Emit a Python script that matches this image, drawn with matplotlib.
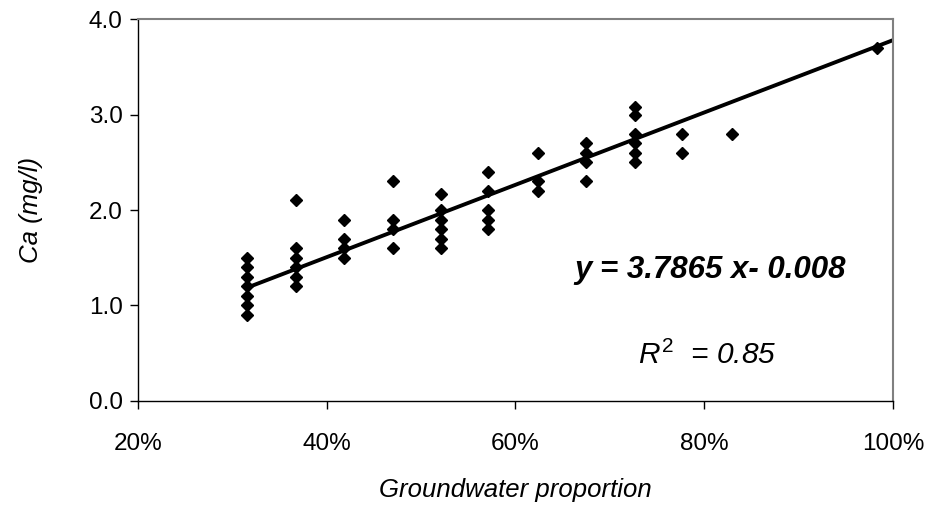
import numpy as np
import matplotlib
matplotlib.use('Agg')
import matplotlib.pyplot as plt
from matplotlib.ticker import PercentFormatter

plt.rcParams['font.family'] = 'Liberation Sans'
plt.rcParams['mathtext.fontset'] = 'custom'
plt.rcParams['mathtext.rm'] = 'Liberation Sans'
plt.rcParams['mathtext.it'] = 'Liberation Sans:italic'

# groundwater proportion of each sampling group, and the Ca values measured
gw = [0.315, 0.367, 0.418, 0.470, 0.521, 0.571, 0.624, 0.675, 0.727, 0.777, 0.829, 0.983]
ca = [
    [1.5, 1.4, 1.3, 1.2, 1.1, 1.0, 0.9],
    [2.1, 1.6, 1.5, 1.4, 1.3, 1.2],
    [1.9, 1.7, 1.6, 1.5],
    [2.3, 1.9, 1.8, 1.6],
    [2.17, 2.0, 1.9, 1.8, 1.7, 1.6],
    [2.4, 2.2, 2.0, 1.9, 1.8],
    [2.6, 2.3, 2.2],
    [2.7, 2.6, 2.5, 2.3],
    [3.08, 3.0, 2.8, 2.7, 2.6, 2.5],
    [2.8, 2.6],
    [2.8],
    [3.7],
]
slope = 3.7865
intercept = -0.008
r2 = 0.85

x = np.concatenate([[g] * len(v) for g, v in zip(gw, ca)])
y = np.concatenate(ca)

fig = plt.figure(figsize=(9.33, 5.29), dpi=100)
ax = fig.add_axes([0.148, 0.242, 0.809, 0.722])

ax.plot(x, y, 'D', color='black', markersize=6.5, zorder=3)

# trend line
xl = np.array([min(gw), 1.0])
ax.plot(xl, slope * xl + intercept, color='black', lw=2.8, zorder=2)

ax.set_xlim(0.2, 1.0)
ax.set_ylim(0, 4.0)
ax.set_xticks([0.2, 0.4, 0.6, 0.8, 1.0])
ax.set_yticks([0, 1, 2, 3, 4])
ax.xaxis.set_major_formatter(PercentFormatter(1.0, decimals=0))
ax.yaxis.set_major_formatter(matplotlib.ticker.FormatStrFormatter('%.1f'))
ax.tick_params(direction='out', length=6, width=1, labelsize=17.5, pad=5)
ax.tick_params(axis='x', pad=17)

for s in ['top', 'right']:
    ax.spines[s].set_color('#808080')
    ax.spines[s].set_linewidth(1.5)
for s in ['left', 'bottom']:
    ax.spines[s].set_color('black')
    ax.spines[s].set_linewidth(1)

ax.set_xlabel('Groundwater proportion', fontsize=18.5, style='italic', va='center')
ax.set_ylabel('Ca (mg/l)', fontsize=18.5, style='italic', va='center')
ax.xaxis.set_label_coords(0.5, -0.233)
ax.yaxis.set_label_coords(-0.142, 0.5)

ax.text(0.806, 1.37, 'y = %.4f x- %.3f' % (slope, -intercept), fontsize=22.5,
        style='italic', weight='bold', ha='center', va='center')
ax.text(0.803, 0.48, r'$R^{2}$  = %.2f' % r2, fontsize=21.5, style='italic',
        ha='center', va='center')

fig.savefig('out.png', dpi=100)
